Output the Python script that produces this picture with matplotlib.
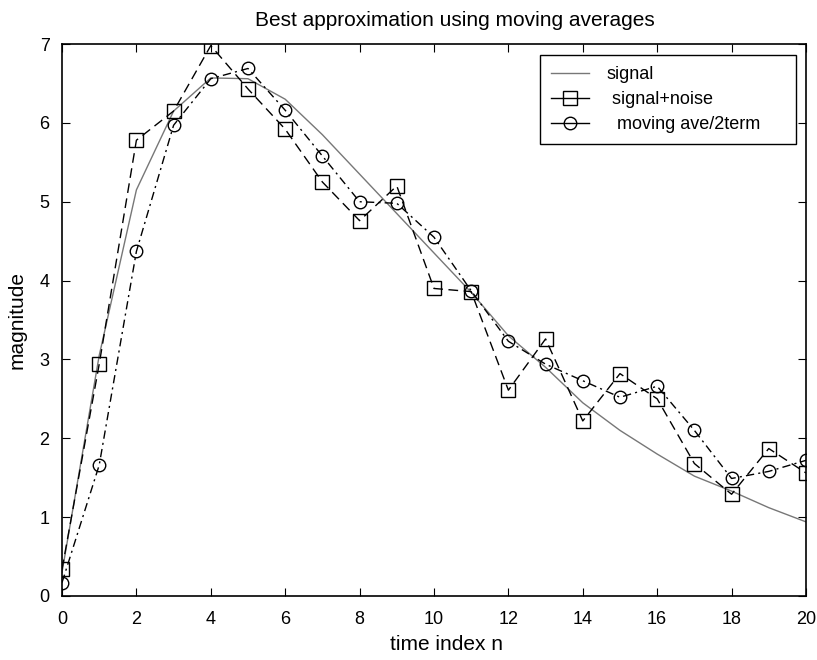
import matplotlib.pyplot as plt
from matplotlib.lines import Line2D

n = list(range(21))
signal = [0.3, 3.05, 5.15, 6.15, 6.57, 6.56, 6.3, 5.85, 5.35, 4.85, 4.35,
          3.85, 3.3, 2.9, 2.45, 2.1, 1.8, 1.52, 1.33, 1.12, 0.94]
noisy = [0.34, 2.94, 5.78, 6.15, 6.98, 6.43, 5.92, 5.25, 4.76, 5.2, 3.9,
         3.86, 2.61, 3.26, 2.22, 2.82, 2.5, 1.68, 1.29, 1.87, 1.56]
moving = [0.17, 1.66, 4.37, 5.97, 6.56, 6.69, 6.16, 5.58, 5.0, 4.98, 4.55,
          3.87, 3.23, 2.94, 2.73, 2.52, 2.66, 2.1, 1.49, 1.58, 1.72]
labels = ["signal", " signal+noise", "  moving ave/2term     "]

plt.rcParams["font.family"] = ["Liberation Sans", "DejaVu Sans"]

fig = plt.figure(figsize=(8.17, 6.6), dpi=100)
ax = fig.add_axes([0.0759, 0.097, 0.9106, 0.8363])

ax.plot(n, signal, color="#777777", lw=1.0)
ax.plot(n, noisy, color="black", lw=1.0, dashes=(7, 4), marker="s",
        ms=10, mfc="none", mec="black", mew=1.0)
ax.plot(n, moving, color="black", lw=1.0, dashes=(6, 3, 1.5, 3), marker="o",
        ms=9, mfc="none", mec="black", mew=1.0)

ax.set_xlim(0, 20)
ax.set_ylim(0, 7)
ax.set_xticks(range(0, 21, 2))
ax.set_yticks(range(0, 8))
ax.tick_params(direction="in", top=True, right=True, length=6, labelsize=13)
ax.tick_params(axis="x", pad=11)
ax.tick_params(axis="y", pad=9)
for s in ax.spines.values():
    s.set_linewidth(1.2)

# title and xlabel sit a little right of centre in the original
ax.set_title("Best approximation using moving averages", fontsize=15, pad=13, x=0.528)
ax.set_xlabel("time index n", fontsize=15, labelpad=8)
ax.xaxis.set_label_coords(0.517, -0.07)
ax.set_ylabel("magnitude", fontsize=15, labelpad=9)

# legend handles drawn with solid short lines, like the original
handles = [
    Line2D([], [], color="#777777", lw=1.0),
    Line2D([], [], color="black", lw=1.0, marker="s", ms=10, mfc="none", mec="black"),
    Line2D([], [], color="black", lw=1.0, marker="o", ms=9, mfc="none", mec="black"),
]
leg = ax.legend(handles, labels, loc="upper right", bbox_to_anchor=(0.9866, 0.98),
                borderaxespad=0, fontsize=13, fancybox=False, edgecolor="black",
                framealpha=1, handlelength=2.1, handletextpad=1.0,
                borderpad=0.6, labelspacing=0.45)
leg.get_frame().set_linewidth(1.0)

fig.savefig("out.png", dpi=100)
